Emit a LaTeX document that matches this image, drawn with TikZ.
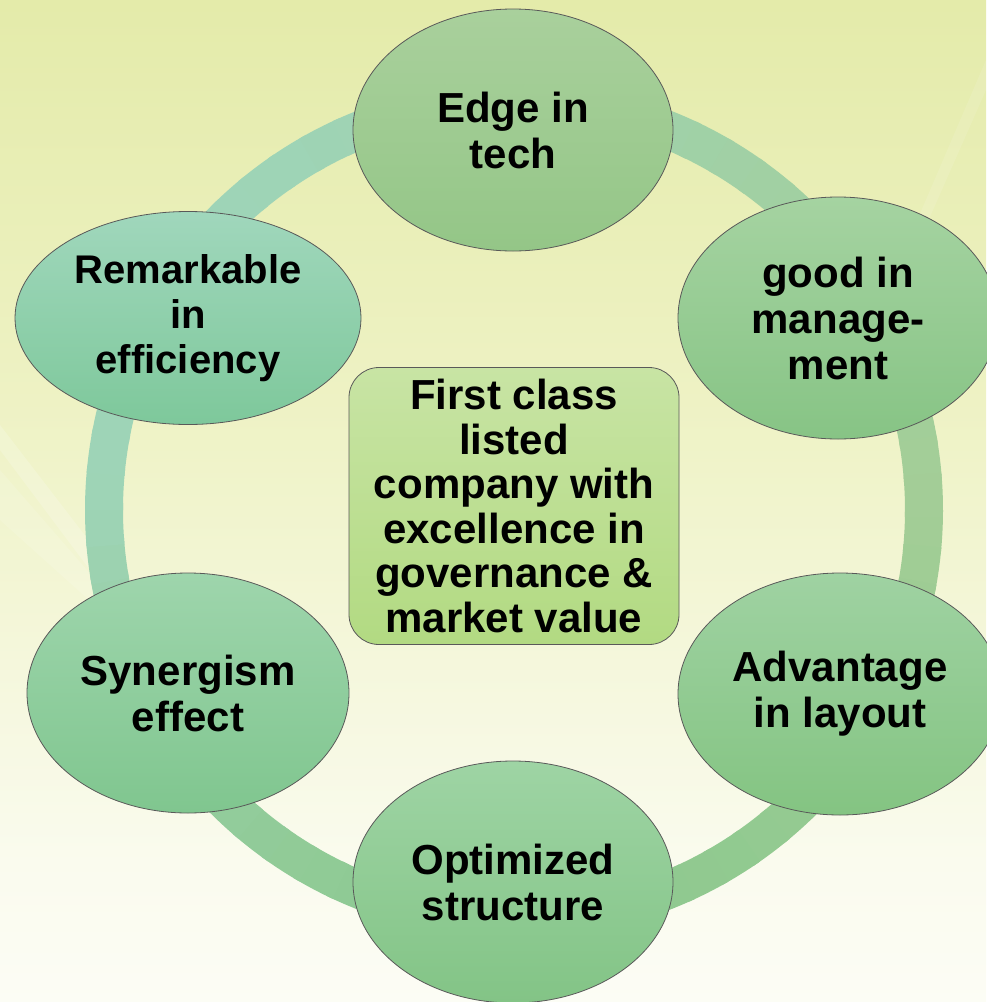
\documentclass[tikz,border=0pt]{standalone}
\usepackage{fontspec}
\setmainfont{Liberation Sans}
\usetikzlibrary{shapes.geometric}
\definecolor{ringT}{HTML}{9ED4B8}
\definecolor{ringY}{HTML}{A3CD95}
\definecolor{ringB}{HTML}{86C78C}
\definecolor{bgA}{HTML}{D7E289}
\definecolor{bgB}{HTML}{EEF2C4}
\definecolor{bgC}{HTML}{FAFBEE}
\definecolor{hubT}{HTML}{C8E4A4}
\definecolor{hubB}{HTML}{B2DA82}
\definecolor{eAt}{HTML}{A9D09C}\definecolor{eAb}{HTML}{94C687}
\definecolor{eBt}{HTML}{A5D3A1}\definecolor{eBb}{HTML}{87C485}
\definecolor{eCt}{HTML}{9FD2A2}\definecolor{eCb}{HTML}{84C482}
\definecolor{eDt}{HTML}{9ED4A4}\definecolor{eDb}{HTML}{83C486}
\definecolor{eEt}{HTML}{9ED5AC}\definecolor{eEb}{HTML}{80C68F}
\definecolor{eFt}{HTML}{A0D7BC}\definecolor{eFb}{HTML}{7EC89B}
\pgfdeclareverticalshading{bgshade}{100bp}{color(0bp)=(white); color(15bp)=(white); color(32bp)=(bgC); color(55bp)=(bgB); color(100bp)=(bgA)}
\tikzset{
  ell/.style 2 args={ellipse, draw=black!65, line width=0.8pt, inner sep=0pt,
    top color=#1, bottom color=#2},
  lbl/.style={align=center, inner sep=0pt, text=black,
    font=\fontsize{42}{46}\selectfont\bfseries},
  lblsmall/.style={lbl, font=\fontsize{40}{45}\selectfont\bfseries},
  hub/.style={rectangle, rounded corners=30pt, draw=black!65, line width=0.8pt,
    inner sep=0pt, top color=hubT, bottom color=hubB},
}
\begin{document}
\begin{tikzpicture}[x=1pt,y=-1pt]
\useasboundingbox (0,0) rectangle (986,1002);
% background
\fill[shading=bgshade] (0,0) rectangle (986,1002);
\fill[white, opacity=0.18] (0,425) -- (0,450) -- (120,610) -- (150,620) -- cycle;
\fill[white, opacity=0.12] (0,470) -- (0,520) -- (200,700) -- cycle;
\fill[white, opacity=0.10] (986,60) -- (986,90) -- (880,330) -- (870,330) -- cycle;
% ring
\foreach \a in {0,5,...,355}{
  \pgfmathtruncatemacro\p{50+50*cos(\a-205)}
  \pgfmathtruncatemacro\r{100-70*max(0,sin(\a+2.5))}
  \draw[line width=38, color=ringT!\p!ringY!\r!ringB] (514,510) ++(\a:410)
     arc[start angle=\a, end angle=\a+6, radius=410];
}
% ellipses
\node[ell={eAt}{eAb}, minimum width=320, minimum height=242] (e1) at (513,130) {};
\node[ell={eBt}{eBb}, minimum width=320, minimum height=242] (e2) at (838,318) {};
\node[ell={eCt}{eCb}, minimum width=324, minimum height=242] (e3) at (840,694) {};
\node[ell={eDt}{eDb}, minimum width=320, minimum height=242] (e4) at (513,882) {};
\node[ell={eEt}{eEb}, minimum width=322, minimum height=240] (e5) at (188,693) {};
\node[ell={eFt}{eFb}, minimum width=346, minimum height=213] (e6) at (188,318) {};
% hub
\node[hub, minimum width=330, minimum height=277] (c) at (514,506) {};
% labels
\node[lbl] (t1) at (e1) {Edge in\\tech};
\node[lbl] (t2) at (e2) {good in\\manage-\\ment};
\node[lbl] (t3) at (e3) {Advantage\\in layout};
\node[lbl] (t4) at (e4) {Optimized\\structure};
\node[lbl] (t5) at (e5) {Synergism\\effect};
\node[lblsmall] (t6) at (e6) {Remarkable\\in\\efficiency};
\node[lbl, font=\fontsize{42}{44.5}\selectfont\bfseries] (tc) at (c) {First class\\listed\\company with\\excellence in\\governance \&\\market value};
\end{tikzpicture}
\end{document}
